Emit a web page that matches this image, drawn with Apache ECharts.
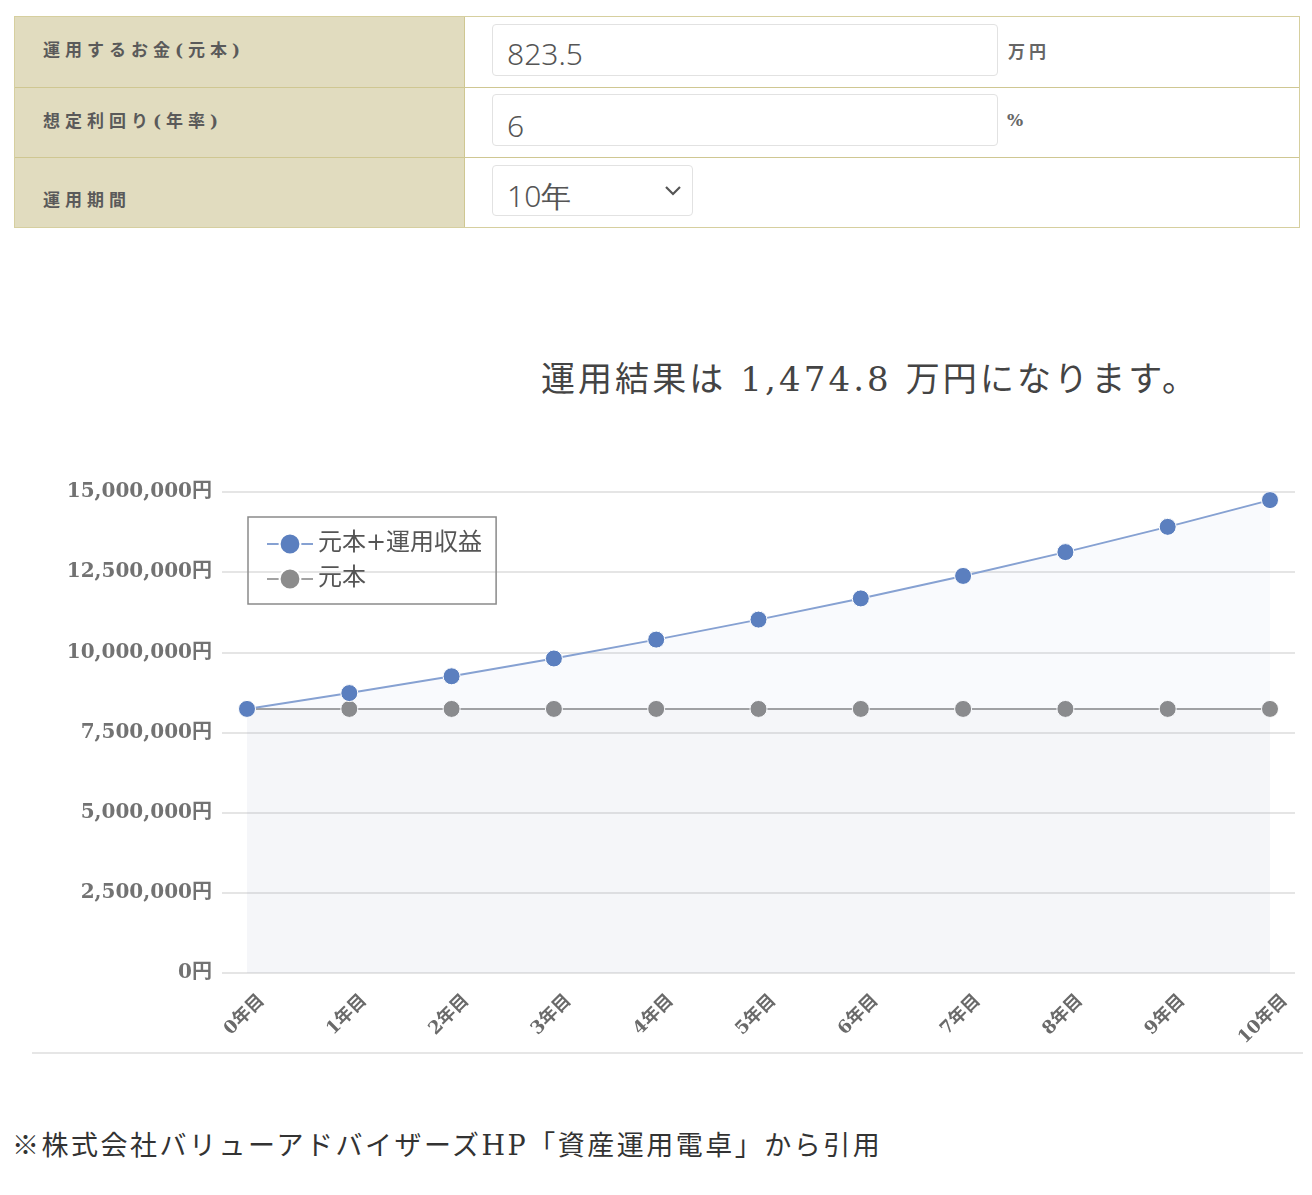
<!DOCTYPE html>
<html lang="ja">
<head>
<meta charset="utf-8">
<title>運用結果</title>
<script src="https://cdn.jsdelivr.net/npm/echarts@6/dist/echarts.min.js"></script>
<style>
  body { margin: 0; background: #fff; width: 1312px; height: 1195px; position: relative; overflow: hidden;
         font-family: "DejaVu Serif", "Noto Sans CJK JP", serif; color: #555; }
  .abs { position: absolute; }
  .form { left: 14px; top: 16px; width: 1284px; height: 210px; border: 1px solid #d6cf9f; }
  .lab { left: 0; width: 450px; height: 70px; background: #e1dcbf; border-right: 1px solid #cfc792;
         font-size: 17px; font-weight: bold; color: #5a5a5a; padding-left: 28px; box-sizing: border-box;
         letter-spacing: 5px; }
  .row-line { left: 0; width: 1284px; height: 0; border-top: 1px solid #cfc792; }
  .box { border: 1px solid #e2e2e2; border-radius: 4px; background: #fff; box-sizing: border-box;
         font-family: "Noto Sans", sans-serif; font-weight: 300; font-size: 30px; color: #555; padding-left: 14px; }
  .unit { font-size: 17px; font-weight: bold; color: #666; letter-spacing: 4px; }
  #title { left: 0; width: 1312px; top: 352px; text-align: center; padding-left: 428px; box-sizing: border-box;
           font-size: 34px; letter-spacing: 3.1px; color: #444; }
  #chart { left: 0; top: 300px; width: 1312px; height: 760px; }
  #rule { left: 32px; top: 1052px; width: 1271px; height: 2px; background: #e6e6e6; }
  #note { left: 12px; top: 1124px; font-size: 27px; letter-spacing: 2.5px; color: #333; white-space: nowrap; }
</style>
</head>
<body>

<div class="abs form">
  <div class="abs lab" style="top:0; line-height:66px;">運用するお金(元本)</div>
  <div class="abs lab" style="top:71px; line-height:66px;">想定利回り(年率)</div>
  <div class="abs lab" style="top:141px; height:69px; line-height:84px;">運用期間</div>
  <div class="abs row-line" style="top:70px;"></div>
  <div class="abs row-line" style="top:140px;"></div>
</div>

<div class="abs box" style="left:492px; top:24px; width:506px; height:52px; line-height:58px;">823.5</div>
<div class="abs unit" style="left:1008px; top:38px;">万円</div>
<div class="abs box" style="left:492px; top:94px; width:506px; height:52px; line-height:62px;">6</div>
<div class="abs unit" style="left:1007px; top:110px;">%</div>
<div class="abs box" style="left:492px; top:165px; width:201px; height:51px; line-height:60px;">10年
  <svg class="abs" style="left:170px; top:17px;" width="20" height="14" viewBox="0 0 20 14">
    <polyline points="3,4 10,11 17,4" fill="none" stroke="#555" stroke-width="2.2"/>
  </svg>
</div>

<div id="title" class="abs">運用結果は 1,474.8 万円になります。</div>
<div id="chart" class="abs"></div>
<div id="rule" class="abs"></div>
<div id="note" class="abs">※株式会社バリューアドバイザーズHP「資産運用電卓」から引用</div>

<script>
// カテゴリ（経過年数）
var years = ['0年目','1年目','2年目','3年目','4年目','5年目','6年目','7年目','8年目','9年目','10年目'];
// 元本+運用収益（円）
var totalValues = [8235000, 8729100, 9252846, 9808017, 10396498, 11020288, 11681505, 12382396, 13125339, 13912860, 14747632];
// 元本（円）
var principalValues = [8235000, 8235000, 8235000, 8235000, 8235000, 8235000, 8235000, 8235000, 8235000, 8235000, 8235000];
// 縦軸
var yMin = 0, yMax = 15000000, yStep = 2500000;

var serifFont = '"DejaVu Serif", "Noto Sans CJK JP", serif';

function yen(v) {
    return String(v).replace(/\B(?=(\d{3})+(?!\d))/g, ',') + '円';
}

var myChart = echarts.init(document.getElementById('chart'));
myChart.setOption({
    animation: false,
    textStyle: { fontFamily: serifFont },
    grid: [
        // 目盛り線と縦軸ラベル用（少し広め）
        { left: 222, right: 17, top: 192, bottom: 87 },
        // データ描画用
        { left: 247, right: 42, top: 192, bottom: 87 }
    ],
    legend: {
        orient: 'vertical',
        left: 248,
        top: 217,
        padding: [15, 14, 13, 18],
        itemGap: 11,
        itemWidth: 46,
        itemHeight: 26,
        borderColor: '#8a8a8a',
        borderWidth: 1.5,
        textStyle: { fontSize: 24, color: '#555', fontFamily: serifFont },
        data: ['元本+運用収益', '元本']
    },
    xAxis: [
        { gridIndex: 0, type: 'category', data: years, show: false },
        {
            gridIndex: 1,
            type: 'category',
            data: years,
            boundaryGap: false,
            axisLine: { show: false },
            axisTick: { show: false },
            axisLabel: {
                rotate: 45,
                interval: 0,
                margin: 10,
                verticalAlign: 'top',
                padding: [12, 0, 0, 0],
                fontSize: 18,
                fontWeight: 'bold',
                color: '#6a6a6a',
                fontFamily: serifFont
            }
        }
    ],
    yAxis: [
        {
            gridIndex: 0,
            type: 'value',
            min: yMin,
            max: yMax,
            interval: yStep,
            axisLine: { show: false },
            axisTick: { show: false },
            axisLabel: {
                margin: 10,
                fontSize: 20,
                fontWeight: 'bold',
                color: '#727272',
                fontFamily: serifFont,
                formatter: yen
            },
            splitLine: { lineStyle: { color: '#dcdcdc', width: 1.5 } }
        },
        {
            gridIndex: 1,
            type: 'value',
            min: yMin,
            max: yMax,
            interval: yStep,
            show: false,
            splitLine: { show: false }
        }
    ],
    series: [
        {
            name: '元本+運用収益',
            type: 'line',
            xAxisIndex: 1,
            yAxisIndex: 1,
            data: totalValues,
            z: 3,
            symbol: 'circle',
            symbolSize: 17,
            itemStyle: { color: '#5b7fbf', borderColor: '#fff', borderWidth: 1 },
            lineStyle: { color: '#86a1d2', width: 2 },
            areaStyle: { color: 'rgba(120,150,215,0.06)' }
        },
        {
            name: '元本',
            type: 'line',
            xAxisIndex: 1,
            yAxisIndex: 1,
            data: principalValues,
            z: 2,
            symbol: 'circle',
            symbolSize: 17,
            itemStyle: { color: '#8c8c8c', borderColor: '#fff', borderWidth: 1 },
            lineStyle: { color: '#a2a2a2', width: 2 },
            areaStyle: { color: 'rgba(175,175,180,0.07)' }
        }
    ]
});
</script>
</body>
</html>
